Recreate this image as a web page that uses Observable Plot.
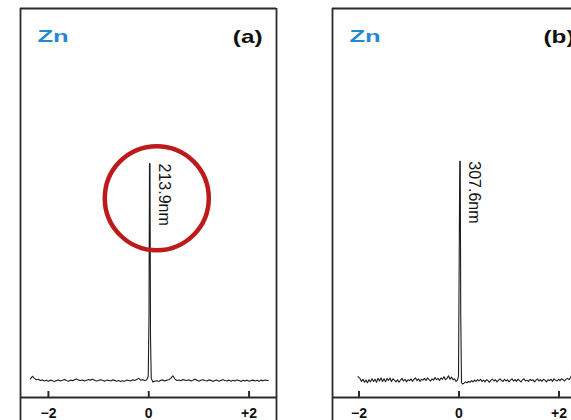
<!DOCTYPE html>
<html>
<head>
<meta charset="utf-8">
<script src="https://cdn.jsdelivr.net/npm/d3@7"></script>
<script src="https://cdn.jsdelivr.net/npm/@observablehq/plot@0.6"></script>
<style>
  html, body { margin: 0; padding: 0; background: #fff; }
  #wrap { position: relative; width: 571px; height: 420px; overflow: hidden; background: #fff; }
  #wrap > div { position: absolute; top: 0; width: 290px; height: 420px; }
  #wrap svg { max-width: none !important; width: 290px; height: 420px; }
</style>
</head>
<body>
<div id="wrap"><div id="pa" style="left:0px"></div><div id="pb" style="left:312px"></div></div>
<script>
// ---- data ----
const element = "Zn";
const panelLabels = ["(a)", "(b)"];
const lineLabels = ["213.9nm", "307.6nm"];
const peakX = [0.02, 0.02];          // wavelength offset of peak top (nm)
const peakTop = [1.0, 1.01];         // relative intensity of peak top
const xTicks = [-2, 0, 2];
const xTickLabels = ["\u22122", "0", "+2"];

// panel (a) trace: offset (nm) and relative intensity
const xA = [-2.36,-2.32,-2.28,-2.24,-2.2,-2.16,-2.12,-2.08,-2.04,-2.0,-1.96,-1.92,-1.88,-1.84,-1.8,-1.76,-1.72,-1.68,-1.64,-1.6,-1.56,-1.52,-1.48,-1.44,-1.4,-1.36,-1.32,-1.28,-1.24,-1.2,-1.16,-1.12,-1.08,-1.04,-1.0,-0.96,-0.92,-0.88,-0.84,-0.8,-0.76,-0.72,-0.68,-0.64,-0.6,-0.56,-0.52,-0.48,-0.44,-0.4,-0.36,-0.32,-0.28,-0.24,-0.2,-0.16,-0.12,-0.08,-0.04,-0.01,0.005,0.015,0.025,0.035,0.05,0.08,0.12,0.16,0.2,0.24,0.28,0.32,0.36,0.4,0.44,0.48,0.52,0.56,0.6,0.64,0.68,0.72,0.76,0.8,0.84,0.88,0.92,0.96,1.0,1.04,1.08,1.12,1.16,1.2,1.24,1.28,1.32,1.36,1.4,1.44,1.48,1.52,1.56,1.6,1.64,1.68,1.72,1.76,1.8,1.84,1.88,1.92,1.96,2.0,2.04,2.08,2.12,2.16,2.2,2.24,2.28,2.32,2.36,2.38];
const yA = [0.008,0.02,0.01,0.004,0.006,0.0,0.003,-0.002,0.001,-0.003,0.002,-0.001,-0.004,0.0,0.003,-0.002,0.001,0.005,0.0,-0.003,0.002,-0.001,0.004,0.007,0.002,0.0,0.003,-0.002,0.001,0.005,0.002,0.006,0.001,-0.002,0.0,0.004,0.001,-0.003,0.002,0.0,-0.002,0.003,0.001,-0.003,0.0,-0.004,-0.001,-0.003,0.002,0.0,-0.002,0.004,0.0,0.005,0.01,0.002,0.004,0.0,0.003,0.02,0.3,1.0,1.0,0.2,0.01,-0.006,-0.003,-0.001,-0.004,0.001,0.003,-0.002,0.002,0.004,0.01,0.022,0.008,0.0,0.003,-0.001,0.005,0.002,0.0,0.004,-0.002,0.001,0.006,0.002,-0.003,0.001,0.004,0.0,-0.002,0.003,0.001,-0.004,0.0,0.002,-0.003,0.001,0.004,0.0,-0.002,0.002,-0.003,0.001,-0.002,0.003,0.0,-0.004,0.001,-0.002,0.002,-0.003,0.0,0.002,-0.002,0.001,-0.003,0.002,-0.001,0.003,0.0,0.001];

// panel (b) trace
const xB = [-2.02,-1.98,-1.95,-1.92,-1.89,-1.86,-1.83,-1.8,-1.77,-1.74,-1.71,-1.68,-1.65,-1.62,-1.59,-1.56,-1.53,-1.5,-1.47,-1.44,-1.41,-1.38,-1.35,-1.32,-1.29,-1.26,-1.23,-1.2,-1.17,-1.14,-1.11,-1.08,-1.05,-1.02,-0.99,-0.96,-0.93,-0.9,-0.87,-0.84,-0.81,-0.78,-0.75,-0.72,-0.69,-0.66,-0.63,-0.6,-0.57,-0.54,-0.51,-0.48,-0.45,-0.42,-0.39,-0.36,-0.33,-0.3,-0.27,-0.24,-0.21,-0.18,-0.15,-0.12,-0.09,-0.06,-0.03,-0.01,0.005,0.015,0.025,0.035,0.05,0.07,0.1,0.13,0.16,0.19,0.22,0.25,0.28,0.31,0.34,0.37,0.4,0.43,0.46,0.49,0.52,0.55,0.58,0.61,0.64,0.67,0.7,0.73,0.76,0.79,0.82,0.85,0.88,0.91,0.94,0.97,1.0,1.03,1.06,1.09,1.12,1.15,1.18,1.21,1.24,1.27,1.3,1.33,1.36,1.39,1.42,1.45,1.48,1.51,1.54,1.57,1.6,1.63,1.66,1.69,1.72,1.75,1.78,1.81,1.84,1.87,1.9,1.93,1.96,1.99,2.02,2.05,2.08,2.11,2.14,2.17,2.2,2.23,2.26,2.29];
const yB = [0.018,0.01,-0.004,0.006,-0.008,0.002,-0.01,0.004,-0.006,0.008,-0.004,0.006,-0.008,0.01,-0.002,0.012,-0.004,0.008,-0.006,0.01,0.0,0.012,-0.004,0.008,0.002,-0.006,0.004,-0.008,0.002,0.01,-0.002,0.006,-0.006,0.004,0.0,0.008,-0.004,0.006,0.012,0.0,0.008,-0.004,0.006,0.002,0.01,0.0,0.012,0.004,-0.002,0.008,0.002,0.014,0.004,0.01,0.0,0.012,0.006,0.018,0.004,0.01,0.022,0.006,0.016,0.004,0.008,-0.004,0.002,0.02,0.6,1.01,1.01,0.3,-0.01,-0.016,-0.012,-0.006,-0.01,-0.004,-0.008,0.0,-0.006,0.002,-0.004,0.004,-0.002,0.006,-0.004,0.002,-0.006,0.004,0.0,-0.008,0.002,0.006,-0.002,0.004,-0.006,0.002,0.008,0.0,-0.004,0.006,-0.002,0.004,-0.006,0.002,0.008,-0.002,0.004,-0.004,0.006,0.0,-0.006,0.004,0.008,-0.002,0.002,-0.004,0.006,0.0,0.004,-0.006,0.002,0.008,-0.002,0.004,-0.004,0.006,0.002,-0.006,0.004,0.0,0.006,-0.004,0.008,0.002,-0.002,0.006,0.0,0.008,0.004,-0.002,0.006,0.01,0.004,0.012,0.03,0.09,0.2];

// circle highlight on panel (a): centre (offset, intensity)
const ringX = [0.16];
const ringY = [0.84];

// ---- layout / style ----
const yDomain = [-0.184, 1.714];
const axisY = -0.078;
const ink = "#2a2a2a";
const font = "'Liberation Sans', Arial, Helvetica, sans-serif";

function panel(xs, ys, i, xDomain, withRing) {
  const trace = xs.map((x, k) => ({x, y: ys[k]}));
  const marks = [
    Plot.ruleX(xDomain, {stroke: ink, strokeWidth: 1.8}),
    Plot.ruleY([yDomain[1]], {stroke: ink, strokeWidth: 1.8}),
    Plot.ruleY([axisY], {stroke: ink, strokeWidth: 1.8}),
    Plot.ruleX(xTicks, {y1: axisY, y2: axisY, insetBottom: 6, stroke: ink, strokeWidth: 2}),
    Plot.text(xTicks, {x: d => d, y: axisY, text: (d, k) => xTickLabels[k], dy: 16,
      fontSize: 14, fontWeight: "bold", fill: "#111", fontFamily: font}),
    Plot.line(trace, {x: "x", y: "y", stroke: "#1e1e1e", strokeWidth: 1.1, curve: "linear"}),
    Plot.text([lineLabels[i]], {x: peakX[i], y: peakTop[i], rotate: 90, textAnchor: "start",
      dx: 14, fontSize: 16, letterSpacing: 1.6, fill: "#111", fontFamily: font}),
    Plot.text([element], {frameAnchor: "top-left", dx: 17, dy: 33, textAnchor: "start",
      fontSize: 16, fontWeight: "bold", fill: "#2589d0", fontFamily: font}),
    Plot.text([panelLabels[i]], {frameAnchor: "top-right", dx: -14, dy: 34, textAnchor: "end",
      fontSize: 18, fontWeight: "bold", fill: "#111", fontFamily: font})
  ];
  if (withRing) {
    marks.push(Plot.dot(ringX.map((x, k) => ({x, y: ringY[k]})), {x: "x", y: "y", r: 52,
      stroke: "#bd1b1b", strokeWidth: 4.5, fill: "none"}));
  }
  const svg = Plot.plot({
    width: 290, height: 420,
    marginLeft: 20, marginRight: 14, marginTop: 8, marginBottom: 0,
    x: {domain: xDomain, axis: null},
    y: {domain: yDomain, axis: null},
    style: {background: "transparent", overflow: "visible", fontFamily: font, maxWidth: "none"},
    marks
  });
  // widen the printed glyphs of the corner labels, as in the scanned figure
  const stretch = {"Zn": 1.6, "(a)": 1.35, "(b)": 1.35};
  svg.querySelectorAll("text").forEach(el => {
    const s = stretch[el.textContent];
    if (!s) return;
    const x = +el.getAttribute("x") || 0, y = +el.getAttribute("y") || 0;
    el.removeAttribute("x"); el.removeAttribute("y");
    const t = el.getAttribute("transform") || "";
    el.setAttribute("transform", `${t} translate(${x},${y}) scale(${s},1)`);
  });
  return svg;
}

document.getElementById("pa").appendChild(panel(xA, yA, 0, [-2.557, 2.547], true));
document.getElementById("pb").appendChild(panel(xB, yB, 1, [-2.53, 2.59], false));
</script>
</body>
</html>
